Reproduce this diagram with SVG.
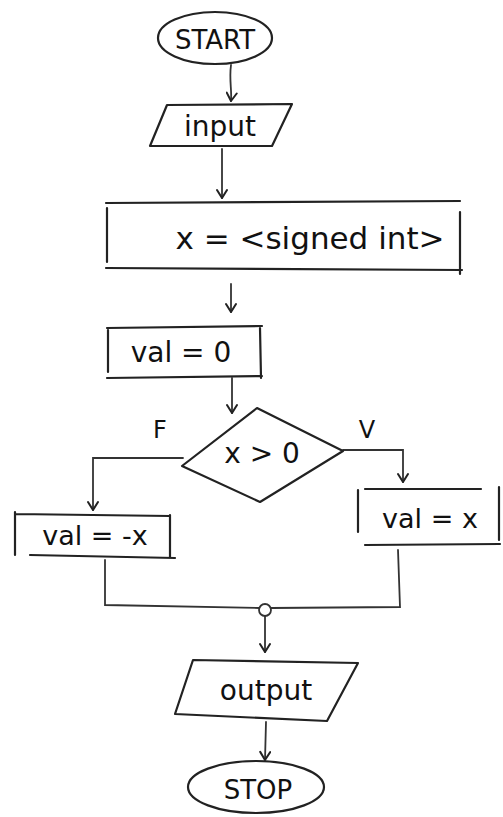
<svg xmlns="http://www.w3.org/2000/svg" width="503" height="817" viewBox="0 0 503 817">
<defs>
<style>
.s{fill:none;stroke:#222;stroke-width:2.2;stroke-linecap:round;stroke-linejoin:round}
.c{fill:none;stroke:#333;stroke-width:1.8;stroke-linecap:round}
.t{font-family:"DejaVu Sans","Liberation Sans",sans-serif;fill:#111;text-anchor:middle;dominant-baseline:central}
</style>
<marker id="ah" viewBox="0 0 12 12" refX="11" refY="6" markerWidth="12" markerHeight="12" markerUnits="userSpaceOnUse" orient="auto">
<path d="M3,1 L11,6 L3,11" fill="none" stroke="#222" stroke-width="2" stroke-linecap="round" stroke-linejoin="round"/>
</marker>
</defs>
<rect width="503" height="817" fill="#fff"/>
<g id="connectors">
<path class="c" d="M231,65 C229,80 232,90 231,101" marker-end="url(#ah)"/>
<path class="c" d="M222,149 L222,198" marker-end="url(#ah)"/>
<path class="c" d="M231,284 L231,312" marker-end="url(#ah)"/>
<path class="c" d="M232,378 L232,413" marker-end="url(#ah)"/>
<path class="c" d="M183,458 L93,458 L93,510" marker-end="url(#ah)"/>
<path class="c" d="M343,450 L403,450 L403,482" marker-end="url(#ah)"/>
<path class="c" d="M105,560 L105,605 L259,608"/>
<path class="c" d="M271,608 L400,607 L398,550"/>
<circle class="c" cx="265" cy="610" r="6"/>
<path class="c" d="M265,616 L265,652" marker-end="url(#ah)"/>
<path class="c" d="M266,722 L265,760" marker-end="url(#ah)"/>
</g>
<g id="start">
<ellipse class="s" cx="215" cy="38" rx="57" ry="26"/>
<text class="t" x="215" y="40" font-size="26">START</text>
</g>
<g id="input">
<polygon class="s" points="167,105 292,104 272,146 150,146"/>
<text class="t" x="220" y="126" font-size="28">input</text>
</g>
<g id="assign-x">
<path class="s" d="M106,203 L460,201 M106,268 L462,270 M107,208 L107,262 M460,212 L460,274"/>
<text class="t" x="310" y="238" font-size="31">x = &lt;signed int&gt;</text>
</g>
<g id="val0">
<path class="s" d="M107,328 L262,326 M107,378 L262,376 M108,330 L108,372 M260,328 L261,378"/>
<text class="t" x="181" y="352" font-size="28">val = 0</text>
</g>
<g id="decision">
<polygon class="s" points="257,408 343,451 260,502 182,466"/>
<text class="t" x="262" y="453" font-size="28">x &gt; 0</text>
<text class="t" x="160" y="430" font-size="24">F</text>
<text class="t" x="367" y="430" font-size="24">V</text>
</g>
<g id="val-negx">
<path class="s" d="M15,514 L170,516 M30,555 L175,558 M15,512 L15,555 M170,515 L170,558"/>
<text class="t" x="95" y="535" font-size="27">val = -x</text>
</g>
<g id="val-x">
<path class="s" d="M365,489 L481,489 M365,545 L500,544 M358,490 L358,532 M499,487 L499,540"/>
<text class="t" x="430" y="518" font-size="27">val = x</text>
</g>
<g id="output">
<polygon class="s" points="193,660 358,663 327,721 175,714"/>
<text class="t" x="266" y="690" font-size="28">output</text>
</g>
<g id="stop">
<ellipse class="s" cx="256" cy="787" rx="68" ry="26"/>
<text class="t" x="258" y="790" font-size="26">STOP</text>
</g>
</svg>
